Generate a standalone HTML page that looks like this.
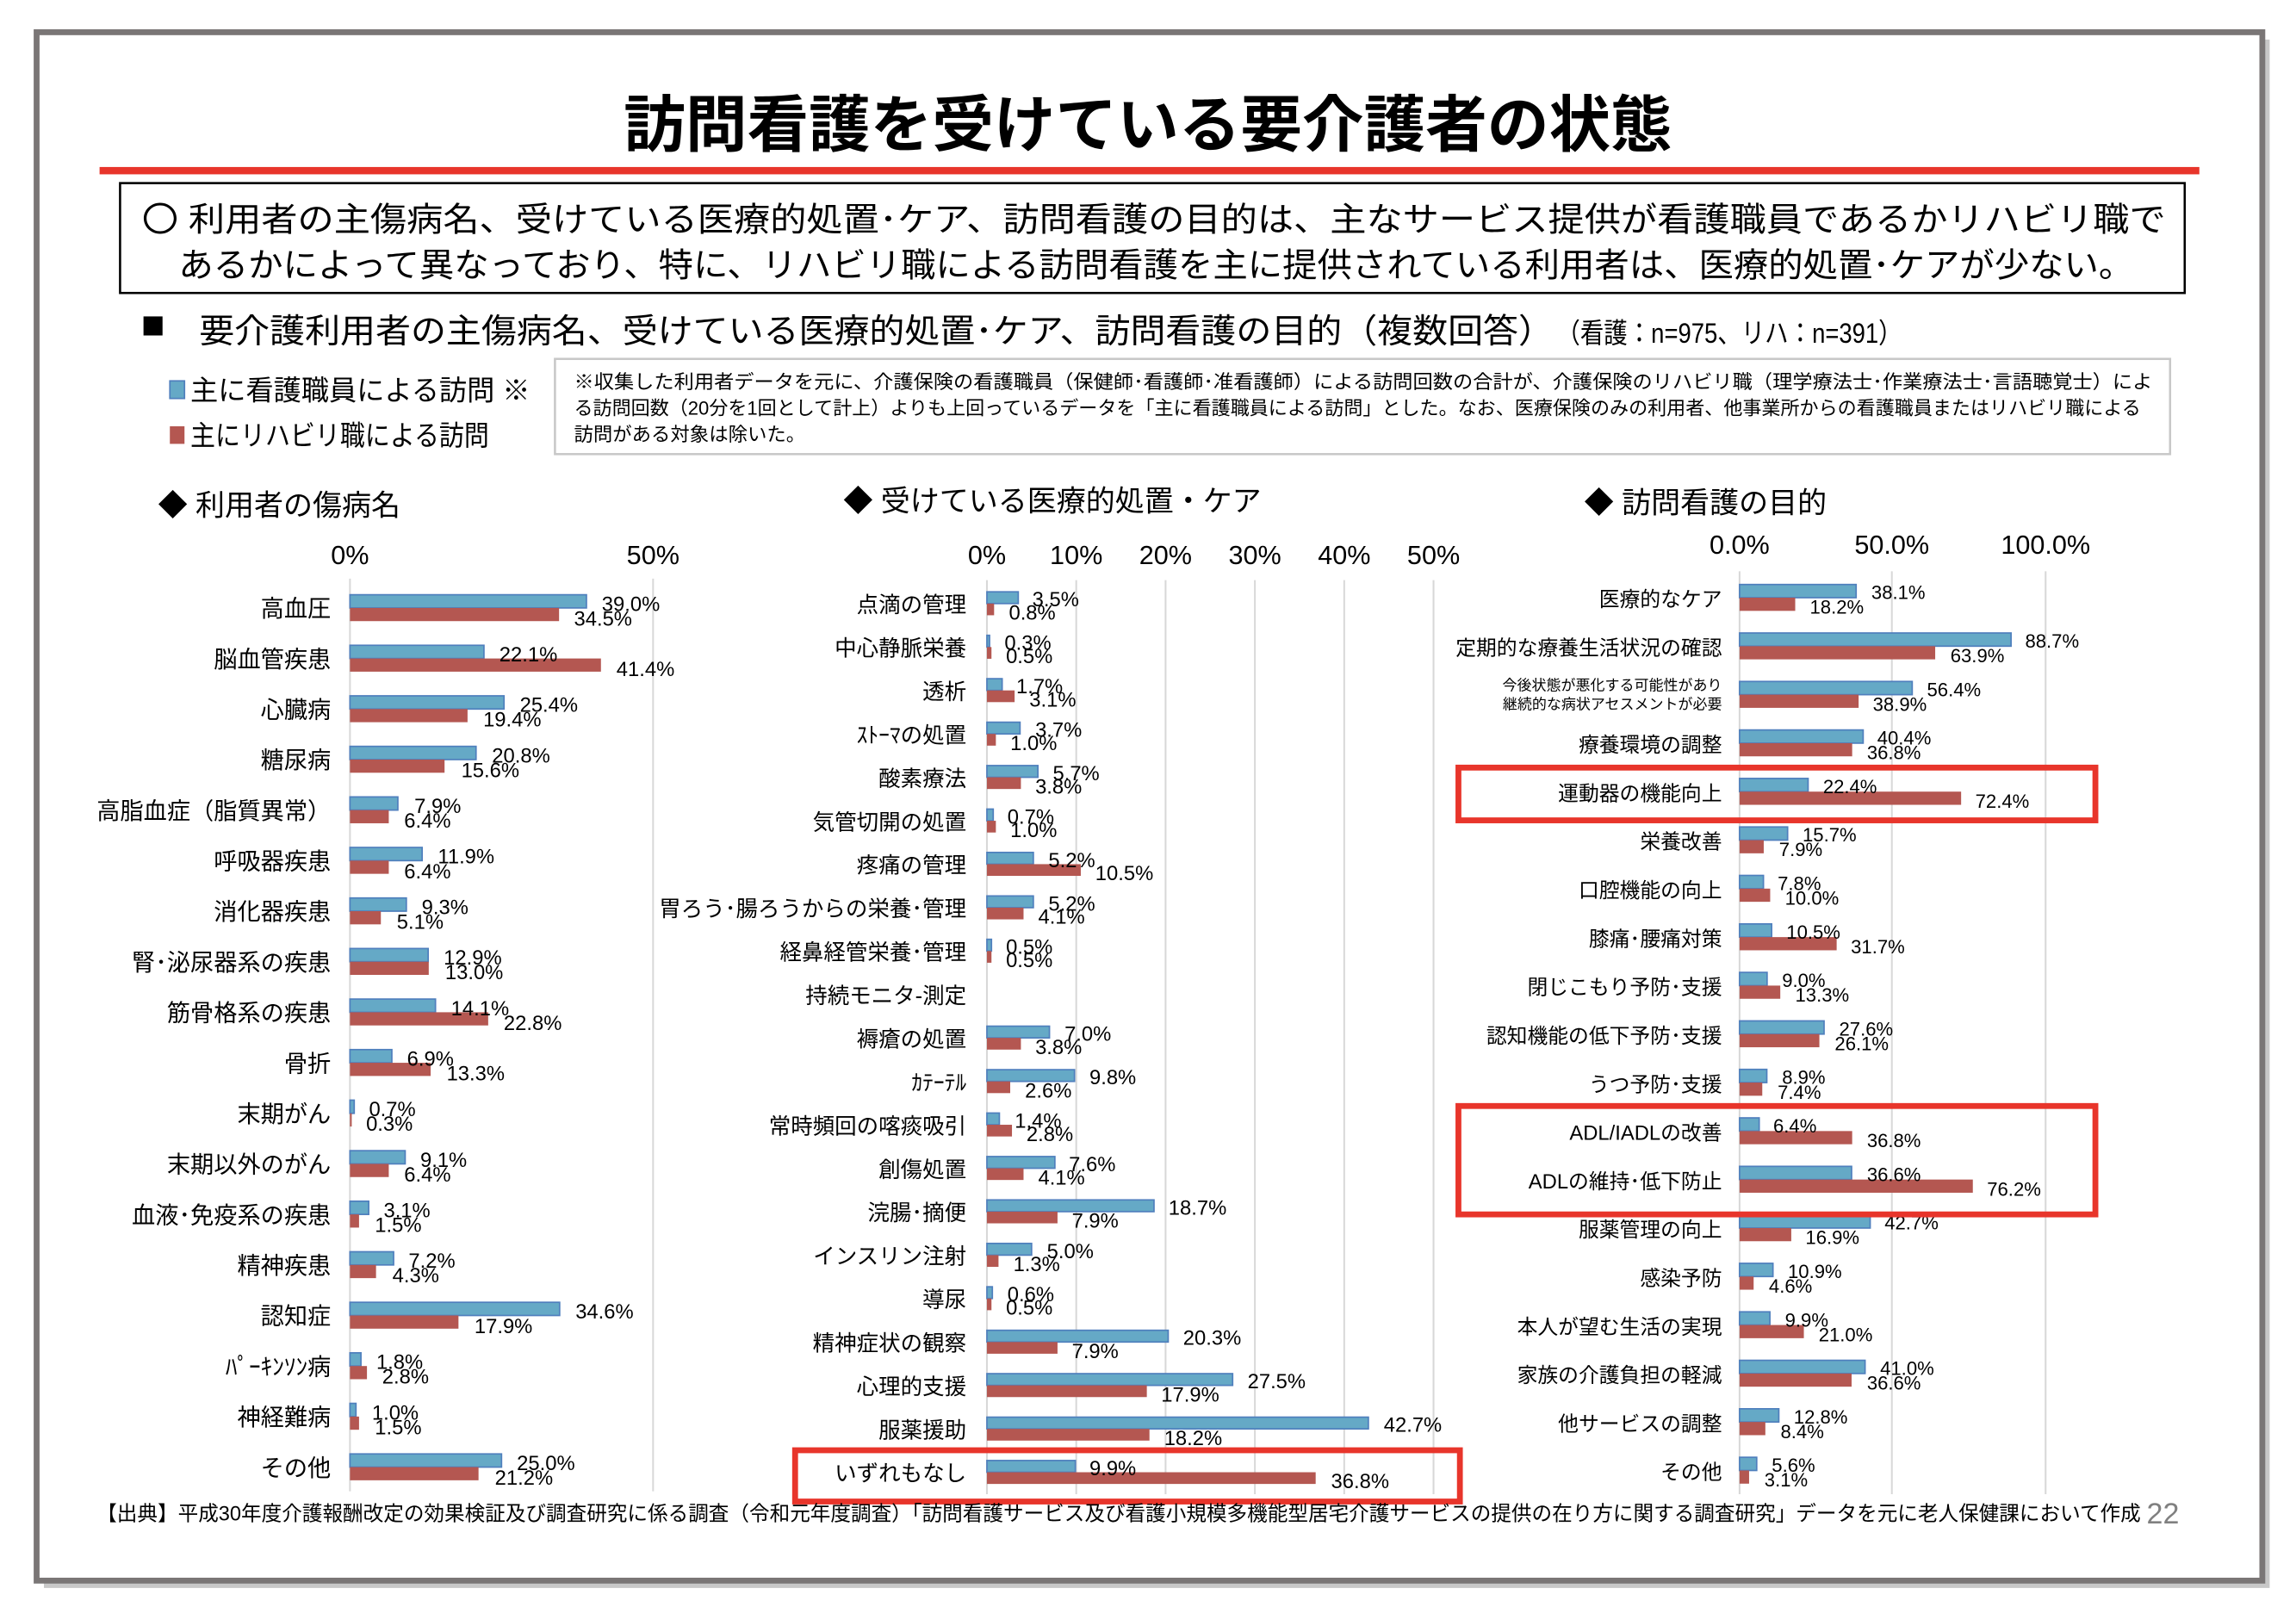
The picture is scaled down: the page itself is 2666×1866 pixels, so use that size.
<!DOCTYPE html>
<html><head><meta charset="utf-8"><style>
html,body{margin:0;padding:0;background:#fff}
svg{display:block}
text{font-family:"Liberation Sans","Noto Sans CJK JP",sans-serif;fill:#000}
.l1{font-size:16px;text-anchor:end}
.l2{font-size:15px;text-anchor:end}
.l3{font-size:14px;text-anchor:end}
.v{font-size:14px}
.v3{font-size:13px}
.b{fill:#65a9c6;stroke:#4f7fbd;stroke-width:1}
.r{fill:#b45751}
.g{stroke:#d8d8d8;stroke-width:1.2}
.t{font-size:18px;text-anchor:middle}
</style></head><body>
<svg width="2666" height="1866" viewBox="0 0 1568 1097" preserveAspectRatio="none" xmlns="http://www.w3.org/2000/svg">
<rect x="0" y="0" width="1568" height="1097" fill="#fff"/>
<rect x="30" y="27" width="1520" height="1057" fill="#c8c8c8"/>
<rect x="25" y="22" width="1520" height="1057" fill="#fff" stroke="#7a7676" stroke-width="4"/>
<text x="784" y="100" style="font-size:42px;font-weight:bold;text-anchor:middle" textLength="716" lengthAdjust="spacingAndGlyphs">訪問看護を受けている要介護者の状態</text>
<rect x="68" y="114" width="1434" height="5" fill="#e8352b"/>
<rect x="82" y="125" width="1410" height="75" fill="none" stroke="#000" stroke-width="1.5"/>
<text x="97" y="158" style="font-size:23px" textLength="1382" lengthAdjust="spacingAndGlyphs">〇  利用者の主傷病名、受けている医療的処置･ケア、訪問看護の目的は、主なサービス提供が看護職員であるかリハビリ職で</text>
<text x="122" y="189" style="font-size:23px" textLength="1335" lengthAdjust="spacingAndGlyphs">あるかによって異なっており、特に、リハビリ職による訪問看護を主に提供されている利用者は、医療的処置･ケアが少ない。</text>
<rect x="98" y="216" width="13" height="13" fill="#000"/>
<text x="136" y="234" style="font-size:23px" textLength="925" lengthAdjust="spacingAndGlyphs">要介護利用者の主傷病名、受けている医療的処置･ケア、訪問看護の目的（複数回答）</text>
<text x="1063" y="234" style="font-size:19px" textLength="236" lengthAdjust="spacingAndGlyphs">（看護：n=975、リハ：n=391）</text>
<rect x="116" y="260" width="10" height="12" fill="#65a9c6" stroke="#4f7fbd"/>
<text x="130" y="273" style="font-size:19px" textLength="232" lengthAdjust="spacingAndGlyphs">主に看護職員による訪問 ※</text>
<rect x="116" y="291" width="10" height="12" fill="#b45751"/>
<text x="130" y="304" style="font-size:19px" textLength="204" lengthAdjust="spacingAndGlyphs">主にリハビリ職による訪問</text>
<rect x="379" y="245" width="1103" height="65" fill="none" stroke="#c8c8c8" stroke-width="1.5"/>
<text x="392" y="265" style="font-size:13px" textLength="1078" lengthAdjust="spacingAndGlyphs">※収集した利用者データを元に、介護保険の看護職員（保健師･看護師･准看護師）による訪問回数の合計が、介護保険のリハビリ職（理学療法士･作業療法士･言語聴覚士）によ</text>
<text x="392" y="283" style="font-size:13px" textLength="1070" lengthAdjust="spacingAndGlyphs">る訪問回数（20分を1回として計上）よりも上回っているデータを「主に看護職員による訪問」とした。なお、医療保険のみの利用者、他事業所からの看護職員またはリハビリ職による</text>
<text x="392" y="301" style="font-size:13px" textLength="158" lengthAdjust="spacingAndGlyphs">訪問がある対象は除いた。</text>

<text x="108" y="352" style="font-size:20px">◆ 利用者の傷病名</text>
<text x="576" y="349" style="font-size:20px">◆ 受けている医療的処置・ケア</text>
<text x="1082" y="350" style="font-size:20px">◆ 訪問看護の目的</text>

<!-- chart1 -->
<line class="g" x1="239" y1="395" x2="239" y2="1018"/><line class="g" x1="446" y1="395" x2="446" y2="1018"/>
<text class="t" x="239" y="385">0%</text><text class="t" x="446" y="385">50%</text>
<g transform="translate(0,415)"><text class="l1" x="226" y="6">高血圧</text><rect class="b" x="239" y="-9" width="161.5" height="9"/><rect class="r" x="239" y="0" width="142.8" height="9"/><text class="v" x="411" y="2">39.0%</text><text class="v" x="392" y="12">34.5%</text></g>
<g transform="translate(0,449.5)"><text class="l1" x="226" y="6">脳血管疾患</text><rect class="b" x="239" y="-9" width="91.5" height="9"/><rect class="r" x="239" y="0" width="171.4" height="9"/><text class="v" x="341" y="2">22.1%</text><text class="v" x="421" y="12">41.4%</text></g>
<g transform="translate(0,484)"><text class="l1" x="226" y="6">心臓病</text><rect class="b" x="239" y="-9" width="105.2" height="9"/><rect class="r" x="239" y="0" width="80.3" height="9"/><text class="v" x="355" y="2">25.4%</text><text class="v" x="330" y="12">19.4%</text></g>
<g transform="translate(0,518.5)"><text class="l1" x="226" y="6">糖尿病</text><rect class="b" x="239" y="-9" width="86.1" height="9"/><rect class="r" x="239" y="0" width="64.6" height="9"/><text class="v" x="336" y="2">20.8%</text><text class="v" x="315" y="12">15.6%</text></g>
<g transform="translate(0,553)"><text class="l1" x="226" y="6">高脂血症（脂質異常）</text><rect class="b" x="239" y="-9" width="32.7" height="9"/><rect class="r" x="239" y="0" width="26.5" height="9"/><text class="v" x="283" y="2">7.9%</text><text class="v" x="276" y="12">6.4%</text></g>
<g transform="translate(0,587.5)"><text class="l1" x="226" y="6">呼吸器疾患</text><rect class="b" x="239" y="-9" width="49.3" height="9"/><rect class="r" x="239" y="0" width="26.5" height="9"/><text class="v" x="299" y="2">11.9%</text><text class="v" x="276" y="12">6.4%</text></g>
<g transform="translate(0,622)"><text class="l1" x="226" y="6">消化器疾患</text><rect class="b" x="239" y="-9" width="38.5" height="9"/><rect class="r" x="239" y="0" width="21.1" height="9"/><text class="v" x="288" y="2">9.3%</text><text class="v" x="271" y="12">5.1%</text></g>
<g transform="translate(0,656.5)"><text class="l1" x="226" y="6">腎･泌尿器系の疾患</text><rect class="b" x="239" y="-9" width="53.4" height="9"/><rect class="r" x="239" y="0" width="53.8" height="9"/><text class="v" x="303" y="2">12.9%</text><text class="v" x="304" y="12">13.0%</text></g>
<g transform="translate(0,691)"><text class="l1" x="226" y="6">筋骨格系の疾患</text><rect class="b" x="239" y="-9" width="58.4" height="9"/><rect class="r" x="239" y="0" width="94.4" height="9"/><text class="v" x="308" y="2">14.1%</text><text class="v" x="344" y="12">22.8%</text></g>
<g transform="translate(0,725.5)"><text class="l1" x="226" y="6">骨折</text><rect class="b" x="239" y="-9" width="28.6" height="9"/><rect class="r" x="239" y="0" width="55.1" height="9"/><text class="v" x="278" y="2">6.9%</text><text class="v" x="305" y="12">13.3%</text></g>
<g transform="translate(0,760)"><text class="l1" x="226" y="6">末期がん</text><rect class="b" x="239" y="-9" width="2.9" height="9"/><rect class="r" x="239" y="0" width="1.2" height="9"/><text class="v" x="252" y="2">0.7%</text><text class="v" x="250" y="12">0.3%</text></g>
<g transform="translate(0,794.5)"><text class="l1" x="226" y="6">末期以外のがん</text><rect class="b" x="239" y="-9" width="37.7" height="9"/><rect class="r" x="239" y="0" width="26.5" height="9"/><text class="v" x="287" y="2">9.1%</text><text class="v" x="276" y="12">6.4%</text></g>
<g transform="translate(0,829)"><text class="l1" x="226" y="6">血液･免疫系の疾患</text><rect class="b" x="239" y="-9" width="12.8" height="9"/><rect class="r" x="239" y="0" width="6.2" height="9"/><text class="v" x="262" y="2">3.1%</text><text class="v" x="256" y="12">1.5%</text></g>
<g transform="translate(0,863.5)"><text class="l1" x="226" y="6">精神疾患</text><rect class="b" x="239" y="-9" width="29.8" height="9"/><rect class="r" x="239" y="0" width="17.8" height="9"/><text class="v" x="279" y="2">7.2%</text><text class="v" x="268" y="12">4.3%</text></g>
<g transform="translate(0,898)"><text class="l1" x="226" y="6">認知症</text><rect class="b" x="239" y="-9" width="143.2" height="9"/><rect class="r" x="239" y="0" width="74.1" height="9"/><text class="v" x="393" y="2">34.6%</text><text class="v" x="324" y="12">17.9%</text></g>
<g transform="translate(0,932.5)"><text class="l1" x="226" y="6">ﾊﾟｰｷﾝｿﾝ病</text><rect class="b" x="239" y="-9" width="7.5" height="9"/><rect class="r" x="239" y="0" width="11.6" height="9"/><text class="v" x="257" y="2">1.8%</text><text class="v" x="261" y="12">2.8%</text></g>
<g transform="translate(0,967)"><text class="l1" x="226" y="6">神経難病</text><rect class="b" x="239" y="-9" width="4.1" height="9"/><rect class="r" x="239" y="0" width="6.2" height="9"/><text class="v" x="254" y="2">1.0%</text><text class="v" x="256" y="12">1.5%</text></g>
<g transform="translate(0,1001.5)"><text class="l1" x="226" y="6">その他</text><rect class="b" x="239" y="-9" width="103.5" height="9"/><rect class="r" x="239" y="0" width="87.8" height="9"/><text class="v" x="353" y="2">25.0%</text><text class="v" x="338" y="12">21.2%</text></g>

<!-- chart2 -->
<g><line class="g" x1="674" y1="396" x2="674" y2="1020"/><line class="g" x1="735" y1="396" x2="735" y2="1020"/><line class="g" x1="796" y1="396" x2="796" y2="1020"/><line class="g" x1="857" y1="396" x2="857" y2="1020"/><line class="g" x1="918" y1="396" x2="918" y2="1020"/><line class="g" x1="979" y1="396" x2="979" y2="1020"/></g>
<text class="t" x="674" y="385">0%</text><text class="t" x="735" y="385">10%</text><text class="t" x="796" y="385">20%</text><text class="t" x="857" y="385">30%</text><text class="t" x="918" y="385">40%</text><text class="t" x="979" y="385">50%</text>
<g transform="translate(0,412)"><text class="l2" x="660" y="6">点滴の管理</text><rect class="b" x="674" y="-8" width="21.4" height="8"/><rect class="r" x="674" y="0" width="4.9" height="8"/><text class="v" x="705" y="2">3.5%</text><text class="v" x="689" y="11">0.8%</text></g>
<g transform="translate(0,441.7)"><text class="l2" x="660" y="6">中心静脈栄養</text><rect class="b" x="674" y="-8" width="1.8" height="8"/><rect class="r" x="674" y="0" width="3.1" height="8"/><text class="v" x="686" y="2">0.3%</text><text class="v" x="687" y="11">0.5%</text></g>
<g transform="translate(0,471.3)"><text class="l2" x="660" y="6">透析</text><rect class="b" x="674" y="-8" width="10.4" height="8"/><rect class="r" x="674" y="0" width="18.9" height="8"/><text class="v" x="694" y="2">1.7%</text><text class="v" x="703" y="11">3.1%</text></g>
<g transform="translate(0,501)"><text class="l2" x="660" y="6">ｽﾄｰﾏの処置</text><rect class="b" x="674" y="-8" width="22.6" height="8"/><rect class="r" x="674" y="0" width="6.1" height="8"/><text class="v" x="707" y="2">3.7%</text><text class="v" x="690" y="11">1.0%</text></g>
<g transform="translate(0,530.6)"><text class="l2" x="660" y="6">酸素療法</text><rect class="b" x="674" y="-8" width="34.8" height="8"/><rect class="r" x="674" y="0" width="23.2" height="8"/><text class="v" x="719" y="2">5.7%</text><text class="v" x="707" y="11">3.8%</text></g>
<g transform="translate(0,560.3)"><text class="l2" x="660" y="6">気管切開の処置</text><rect class="b" x="674" y="-8" width="4.3" height="8"/><rect class="r" x="674" y="0" width="6.1" height="8"/><text class="v" x="688" y="2">0.7%</text><text class="v" x="690" y="11">1.0%</text></g>
<g transform="translate(0,589.9)"><text class="l2" x="660" y="6">疼痛の管理</text><rect class="b" x="674" y="-8" width="31.7" height="8"/><rect class="r" x="674" y="0" width="64.1" height="8"/><text class="v" x="716" y="2">5.2%</text><text class="v" x="748" y="11">10.5%</text></g>
<g transform="translate(0,619.6)"><text class="l2" x="660" y="6">胃ろう･腸ろうからの栄養･管理</text><rect class="b" x="674" y="-8" width="31.7" height="8"/><rect class="r" x="674" y="0" width="25" height="8"/><text class="v" x="716" y="2">5.2%</text><text class="v" x="709" y="11">4.1%</text></g>
<g transform="translate(0,649.2)"><text class="l2" x="660" y="6">経鼻経管栄養･管理</text><rect class="b" x="674" y="-8" width="3.1" height="8"/><rect class="r" x="674" y="0" width="3.1" height="8"/><text class="v" x="687" y="2">0.5%</text><text class="v" x="687" y="11">0.5%</text></g>
<g transform="translate(0,678.9)"><text class="l2" x="660" y="6">持続モニタ-測定</text></g>
<g transform="translate(0,708.5)"><text class="l2" x="660" y="6">褥瘡の処置</text><rect class="b" x="674" y="-8" width="42.7" height="8"/><rect class="r" x="674" y="0" width="23.2" height="8"/><text class="v" x="727" y="2">7.0%</text><text class="v" x="707" y="11">3.8%</text></g>
<g transform="translate(0,738.2)"><text class="l2" x="660" y="6">ｶﾃｰﾃﾙ</text><rect class="b" x="674" y="-8" width="59.8" height="8"/><rect class="r" x="674" y="0" width="15.9" height="8"/><text class="v" x="744" y="2">9.8%</text><text class="v" x="700" y="11">2.6%</text></g>
<g transform="translate(0,767.8)"><text class="l2" x="660" y="6">常時頻回の喀痰吸引</text><rect class="b" x="674" y="-8" width="8.5" height="8"/><rect class="r" x="674" y="0" width="17.1" height="8"/><text class="v" x="693" y="2">1.4%</text><text class="v" x="701" y="11">2.8%</text></g>
<g transform="translate(0,797.5)"><text class="l2" x="660" y="6">創傷処置</text><rect class="b" x="674" y="-8" width="46.4" height="8"/><rect class="r" x="674" y="0" width="25" height="8"/><text class="v" x="730" y="2">7.6%</text><text class="v" x="709" y="11">4.1%</text></g>
<g transform="translate(0,827.1)"><text class="l2" x="660" y="6">浣腸･摘便</text><rect class="b" x="674" y="-8" width="114.1" height="8"/><rect class="r" x="674" y="0" width="48.2" height="8"/><text class="v" x="798" y="2">18.7%</text><text class="v" x="732" y="11">7.9%</text></g>
<g transform="translate(0,856.8)"><text class="l2" x="660" y="6">インスリン注射</text><rect class="b" x="674" y="-8" width="30.5" height="8"/><rect class="r" x="674" y="0" width="7.9" height="8"/><text class="v" x="715" y="2">5.0%</text><text class="v" x="692" y="11">1.3%</text></g>
<g transform="translate(0,886.4)"><text class="l2" x="660" y="6">導尿</text><rect class="b" x="674" y="-8" width="3.7" height="8"/><rect class="r" x="674" y="0" width="3.1" height="8"/><text class="v" x="688" y="2">0.6%</text><text class="v" x="687" y="11">0.5%</text></g>
<g transform="translate(0,916.1)"><text class="l2" x="660" y="6">精神症状の観察</text><rect class="b" x="674" y="-8" width="123.8" height="8"/><rect class="r" x="674" y="0" width="48.2" height="8"/><text class="v" x="808" y="2">20.3%</text><text class="v" x="732" y="11">7.9%</text></g>
<g transform="translate(0,945.7)"><text class="l2" x="660" y="6">心理的支援</text><rect class="b" x="674" y="-8" width="167.8" height="8"/><rect class="r" x="674" y="0" width="109.2" height="8"/><text class="v" x="852" y="2">27.5%</text><text class="v" x="793" y="11">17.9%</text></g>
<g transform="translate(0,975.4)"><text class="l2" x="660" y="6">服薬援助</text><rect class="b" x="674" y="-8" width="260.5" height="8"/><rect class="r" x="674" y="0" width="111" height="8"/><text class="v" x="945" y="2">42.7%</text><text class="v" x="795" y="11">18.2%</text></g>
<g transform="translate(0,1005)"><text class="l2" x="660" y="6">いずれもなし</text><rect class="b" x="674" y="-8" width="60.4" height="8"/><rect class="r" x="674" y="0" width="224.5" height="8"/><text class="v" x="744" y="2">9.9%</text><text class="v" x="909" y="11">36.8%</text></g>
<rect x="543" y="990" width="454" height="35" fill="none" stroke="#e8352b" stroke-width="4"/>

<!-- chart3 -->
<line class="g" x1="1188" y1="390" x2="1188" y2="1020"/><line class="g" x1="1292" y1="390" x2="1292" y2="1020"/><line class="g" x1="1397" y1="390" x2="1397" y2="1020"/>
<text class="t" x="1188" y="378">0.0%</text><text class="t" x="1292" y="378">50.0%</text><text class="t" x="1397" y="378">100.0%</text>
<g transform="translate(0,408)"><text class="l3" x="1176" y="6">医療的なケア</text><rect class="b" x="1188" y="-9" width="79.6" height="9"/><rect class="r" x="1188" y="0" width="38" height="9"/><text class="v3" x="1278" y="1">38.1%</text><text class="v3" x="1236" y="11">18.2%</text></g>
<g transform="translate(0,441.1)"><text class="l3" x="1176" y="6">定期的な療養生活状況の確認</text><rect class="b" x="1188" y="-9" width="185.4" height="9"/><rect class="r" x="1188" y="0" width="133.6" height="9"/><text class="v3" x="1383" y="1">88.7%</text><text class="v3" x="1332" y="11">63.9%</text></g>
<g transform="translate(0,474.2)"><text style="font-size:10px;text-anchor:end" x="1176" y="-3">今後状態が悪化する可能性があり</text><text style="font-size:10px;text-anchor:end" x="1176" y="10">継続的な病状アセスメントが必要</text><rect class="b" x="1188" y="-9" width="117.9" height="9"/><rect class="r" x="1188" y="0" width="81.3" height="9"/><text class="v3" x="1316" y="1">56.4%</text><text class="v3" x="1279" y="11">38.9%</text></g>
<g transform="translate(0,507.3)"><text class="l3" x="1176" y="6">療養環境の調整</text><rect class="b" x="1188" y="-9" width="84.4" height="9"/><rect class="r" x="1188" y="0" width="76.9" height="9"/><text class="v3" x="1282" y="1">40.4%</text><text class="v3" x="1275" y="11">36.8%</text></g>
<g transform="translate(0,540.4)"><text class="l3" x="1176" y="6">運動器の機能向上</text><rect class="b" x="1188" y="-9" width="46.8" height="9"/><rect class="r" x="1188" y="0" width="151.3" height="9"/><text class="v3" x="1245" y="1">22.4%</text><text class="v3" x="1349" y="11">72.4%</text></g>
<g transform="translate(0,573.5)"><text class="l3" x="1176" y="6">栄養改善</text><rect class="b" x="1188" y="-9" width="32.8" height="9"/><rect class="r" x="1188" y="0" width="16.5" height="9"/><text class="v3" x="1231" y="1">15.7%</text><text class="v3" x="1215" y="11">7.9%</text></g>
<g transform="translate(0,606.6)"><text class="l3" x="1176" y="6">口腔機能の向上</text><rect class="b" x="1188" y="-9" width="16.3" height="9"/><rect class="r" x="1188" y="0" width="20.9" height="9"/><text class="v3" x="1214" y="1">7.8%</text><text class="v3" x="1219" y="11">10.0%</text></g>
<g transform="translate(0,639.7)"><text class="l3" x="1176" y="6">膝痛･腰痛対策</text><rect class="b" x="1188" y="-9" width="21.9" height="9"/><rect class="r" x="1188" y="0" width="66.3" height="9"/><text class="v3" x="1220" y="1">10.5%</text><text class="v3" x="1264" y="11">31.7%</text></g>
<g transform="translate(0,672.8)"><text class="l3" x="1176" y="6">閉じこもり予防･支援</text><rect class="b" x="1188" y="-9" width="18.8" height="9"/><rect class="r" x="1188" y="0" width="27.8" height="9"/><text class="v3" x="1217" y="1">9.0%</text><text class="v3" x="1226" y="11">13.3%</text></g>
<g transform="translate(0,705.9)"><text class="l3" x="1176" y="6">認知機能の低下予防･支援</text><rect class="b" x="1188" y="-9" width="57.7" height="9"/><rect class="r" x="1188" y="0" width="54.5" height="9"/><text class="v3" x="1256" y="1">27.6%</text><text class="v3" x="1253" y="11">26.1%</text></g>
<g transform="translate(0,739)"><text class="l3" x="1176" y="6">うつ予防･支援</text><rect class="b" x="1188" y="-9" width="18.6" height="9"/><rect class="r" x="1188" y="0" width="15.5" height="9"/><text class="v3" x="1217" y="1">8.9%</text><text class="v3" x="1214" y="11">7.4%</text></g>
<g transform="translate(0,772.1)"><text class="l3" x="1176" y="6">ADL/IADLの改善</text><rect class="b" x="1188" y="-9" width="13.4" height="9"/><rect class="r" x="1188" y="0" width="76.9" height="9"/><text class="v3" x="1211" y="1">6.4%</text><text class="v3" x="1275" y="11">36.8%</text></g>
<g transform="translate(0,805.2)"><text class="l3" x="1176" y="6">ADLの維持･低下防止</text><rect class="b" x="1188" y="-9" width="76.5" height="9"/><rect class="r" x="1188" y="0" width="159.3" height="9"/><text class="v3" x="1275" y="1">36.6%</text><text class="v3" x="1357" y="11">76.2%</text></g>
<g transform="translate(0,838.3)"><text class="l3" x="1176" y="6">服薬管理の向上</text><rect class="b" x="1188" y="-9" width="89.2" height="9"/><rect class="r" x="1188" y="0" width="35.3" height="9"/><text class="v3" x="1287" y="1">42.7%</text><text class="v3" x="1233" y="11">16.9%</text></g>
<g transform="translate(0,871.4)"><text class="l3" x="1176" y="6">感染予防</text><rect class="b" x="1188" y="-9" width="22.8" height="9"/><rect class="r" x="1188" y="0" width="9.6" height="9"/><text class="v3" x="1221" y="1">10.9%</text><text class="v3" x="1208" y="11">4.6%</text></g>
<g transform="translate(0,904.5)"><text class="l3" x="1176" y="6">本人が望む生活の実現</text><rect class="b" x="1188" y="-9" width="20.7" height="9"/><rect class="r" x="1188" y="0" width="43.9" height="9"/><text class="v3" x="1219" y="1">9.9%</text><text class="v3" x="1242" y="11">21.0%</text></g>
<g transform="translate(0,937.6)"><text class="l3" x="1176" y="6">家族の介護負担の軽減</text><rect class="b" x="1188" y="-9" width="85.7" height="9"/><rect class="r" x="1188" y="0" width="76.5" height="9"/><text class="v3" x="1284" y="1">41.0%</text><text class="v3" x="1275" y="11">36.6%</text></g>
<g transform="translate(0,970.7)"><text class="l3" x="1176" y="6">他サービスの調整</text><rect class="b" x="1188" y="-9" width="26.8" height="9"/><rect class="r" x="1188" y="0" width="17.6" height="9"/><text class="v3" x="1225" y="1">12.8%</text><text class="v3" x="1216" y="11">8.4%</text></g>
<g transform="translate(0,1003.8)"><text class="l3" x="1176" y="6">その他</text><rect class="b" x="1188" y="-9" width="11.7" height="9"/><rect class="r" x="1188" y="0" width="6.5" height="9"/><text class="v3" x="1210" y="1">5.6%</text><text class="v3" x="1205" y="11">3.1%</text></g>
<rect x="996" y="524" width="435" height="36" fill="none" stroke="#e8352b" stroke-width="4"/>
<rect x="996" y="755" width="435" height="74" fill="none" stroke="#e8352b" stroke-width="4"/>

<text x="66" y="1038" style="font-size:14px" textLength="1396" lengthAdjust="spacingAndGlyphs">【出典】平成30年度介護報酬改定の効果検証及び調査研究に係る調査（令和元年度調査）「訪問看護サービス及び看護小規模多機能型居宅介護サービスの提供の在り方に関する調査研究」データを元に老人保健課において作成</text>
<text x="1466" y="1040" style="font-size:20px;fill:#808080">22</text>
</svg>
</body></html>
